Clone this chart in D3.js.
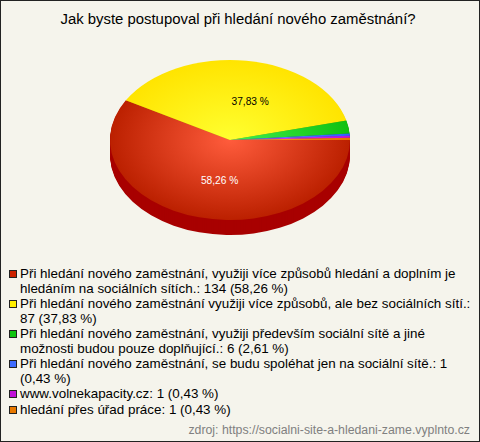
<!DOCTYPE html>
<html><head><meta charset="utf-8">
<script src="https://cdn.jsdelivr.net/npm/d3@7"></script>
<style>html,body{margin:0;padding:0;background:#fff}svg{display:block}text{font-family:"Liberation Sans",Arial,sans-serif}</style>
</head><body><svg id="c" width="480" height="442"></svg>
<script>
const title = "Jak byste postupoval při hledání nového zaměstnání?";
const values = [134, 87, 6, 1, 1, 1];
const percentLabels = ["58,26 %", "37,83 %", "2,61 %", "0,43 %", "0,43 %", "0,43 %"];
const legendLines = [
  ["Při hledání nového zaměstnání, využiji více způsobů hledání a doplním je", "hledáním na sociálních sítích.: 134 (58,26 %)"],
  ["Při hledání nového zaměstnání využiji více způsobů, ale bez sociálních sítí.:", "87 (37,83 %)"],
  ["Při hledání nového zaměstnání, využiji především sociální sítě a jiné", "možnosti budou pouze doplňující.: 6 (2,61 %)"],
  ["Při hledání nového zaměstnání, se budu spoléhat jen na sociální sítě.: 1", "(0,43 %)"],
  ["www.volnekapacity.cz: 1 (0,43 %)"],
  ["hledání přes úřad práce: 1 (0,43 %)"]
];
const colors = ["#cc2200", "#ffee00", "#10c510", "#3f6cff", "#c010d8", "#e87800"];
const centerColors = ["#ff5c3c", "#ffff30", "#40f050", "#7090ff", "#f040ff", "#ffa030"];
const edgeColors = ["#bb2000", "#ffe400", "#10c010", "#3060ff", "#c010e0", "#e87000"];
const sideColors = ["#a80000", "#b0a000", "#008000", "#2040b0", "#800090", "#a05000"];
const footer = "zdroj: https://socialni-site-a-hledani-zame.vyplnto.cz";

const W = 480, H = 442, cx = 230, cy = 140, rx = 120, ry = 80, depth = 15;
const svg = d3.select("#c");
svg.append("rect").attr("x",0.5).attr("y",0.5).attr("width",W-1).attr("height",H-1)
  .attr("fill","#f5f4ec").attr("stroke","#222");

svg.append("text").attr("x",238).attr("y",24).attr("text-anchor","middle")
  .attr("font-size",14.9).attr("fill","#000").text(title);

const defs = svg.append("defs");
values.forEach((v,i)=>{
  const g = defs.append("radialGradient").attr("id","g"+i).attr("gradientUnits","userSpaceOnUse")
    .attr("cx",0).attr("cy",0).attr("r",rx);
  g.append("stop").attr("offset",0).attr("stop-color",centerColors[i]);
  g.append("stop").attr("offset",1).attr("stop-color",edgeColors[i]);
});

const pie = d3.pie().sort(null).startAngle(Math.PI/2).endAngle(Math.PI/2+2*Math.PI);
const arcs = pie(values);
const arc = d3.arc().innerRadius(0).outerRadius(rx);
const sy = ry/rx;

const side = svg.append("g");
d3.range(depth,0,-1).forEach(d=>{
  side.append("g").attr("transform",`translate(${cx},${cy+d}) scale(1,${sy})`)
    .selectAll("path").data(arcs).join("path").attr("d",arc).attr("fill",(a,i)=>sideColors[i]);
});
svg.append("g").attr("transform",`translate(${cx},${cy}) scale(1,${sy})`)
  .selectAll("path").data(arcs).join("path").attr("d",arc).attr("fill",(a,i)=>`url(#g${i})`);

const labelArc = d3.arc().innerRadius(rx*0.5).outerRadius(rx*0.5);
const nudgeX = [5, 12], nudgeY = [5, 5];
[0,1].forEach(i=>{
  const [x,y] = labelArc.centroid(arcs[i]);
  svg.append("text").attr("x",cx+x+nudgeX[i]).attr("y",cy+y*sy+nudgeY[i]).attr("text-anchor","middle")
    .attr("font-size",10.2).attr("fill",i===0?"#fff":"#000").text(percentLabels[i]);
});

const rowY = [278,308,338,368,398,414];
const fs = 13.4;
legendLines.forEach((lines,i)=>{
  svg.append("rect").attr("x",9.5).attr("y",rowY[i]-7.5).attr("width",7).attr("height",7)
    .attr("fill",colors[i]).attr("stroke","#222");
  lines.forEach((t,j)=>{
    svg.append("text").attr("x",20).attr("y",rowY[i]+j*15).attr("font-size",fs).attr("fill","#000").text(t);
  });
});
svg.append("text").attr("x",470).attr("y",434).attr("text-anchor","end")
  .attr("font-size",12.3).attr("fill","#808080").text(footer);
</script></body></html>
